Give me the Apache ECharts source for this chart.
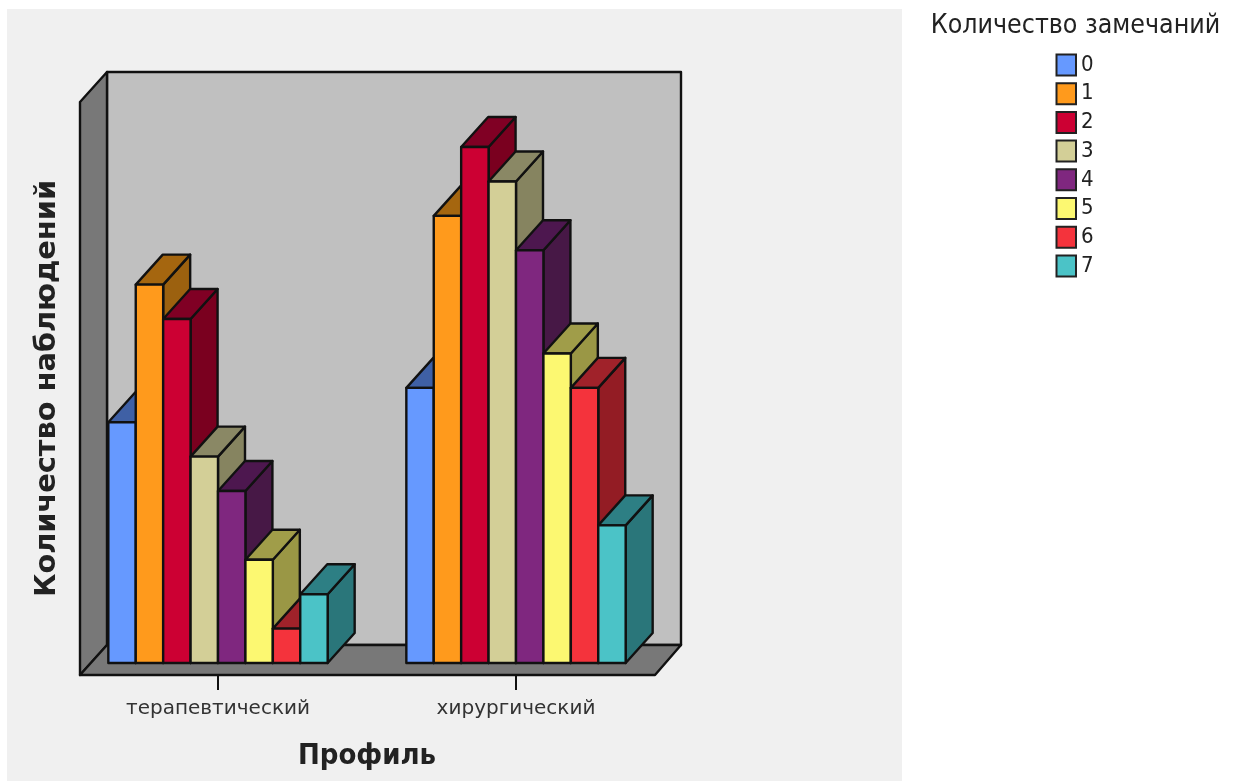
<!DOCTYPE html>
<html>
<head>
<meta charset="utf-8">
<style>html,body{margin:0;padding:0;background:#fff}#chart{width:1237px;height:781px}</style>
<script src="https://cdn.jsdelivr.net/npm/echarts@6/dist/echarts.min.js"></script>
</head>
<body>
<div id="chart"></div>
<script>
// Observation counts by department profile and number of remarks
const profiles = ['терапевтический', 'хирургический'];
const remarkLevels = ['0', '1', '2', '3', '4', '5', '6', '7'];
const countsTherapy = [7, 11, 10, 6, 5, 3, 1, 2];
const countsSurgery = [8, 13, 15, 14, 12, 9, 8, 4];
const faceColors = ['#6699ff', '#ff9a1c', '#cc0033', '#d3cf97', '#7f277f', '#fcf871', '#f4333c', '#4bc3c7'];
const topColors = ['#3f60a5', '#a5660f', '#800024', '#8a8865', '#4d174f', '#a09d49', '#a0222a', '#2d7f84'];
const sideColors = ['#3f60a5', '#9c610f', '#7a001f', '#868460', '#471846', '#9a9745', '#931c24', '#2a767a'];

const DEPTH_X = 27, DEPTH_Y = -30;
const FLOOR_DROP = 12, TICK_LENGTH = 15;
const OUTLINE = '#111';
const BAR_SHARE = 0.092;

function poly(points, fill) {
  return { type: 'polygon', shape: { points }, style: { fill, stroke: OUTLINE, lineWidth: 2.4, lineJoin: 'round' } };
}

// Back wall, side wall and floor of the box, derived from the grid rectangle
function renderBox(params, api) {
  const cs = params.coordSys;
  const l = cs.x + 11, r = cs.x + cs.width - 10, t = cs.y, b = cs.y + cs.height + FLOOR_DROP;
  const bt = t + DEPTH_Y, bb = b + DEPTH_Y, bl = l + DEPTH_X, br = r + DEPTH_X - 1;
  return { type: 'group', children: [
    poly([[bl, bt], [br, bt], [br, bb], [bl, bb]], '#c0c0c0'),
    poly([[l, t], [bl, bt], [bl, bb], [l, b]], '#787878'),
    poly([[l, b], [r, b], [br, bb], [bl, bb]], '#787878')
  ] };
}

// Category tick hanging below the front edge of the floor
function renderTick(params, api) {
  const p = api.coord([api.value(0), 0]);
  return {
    type: 'line',
    shape: { x1: p[0], y1: p[1] + FLOOR_DROP, x2: p[0], y2: p[1] + FLOOR_DROP + TICK_LENGTH },
    style: { stroke: OUTLINE, lineWidth: 2 }
  };
}

// A single extruded bar: front face, top and right side
function barRenderer(level) {
  return function (params, api) {
    const w = api.size([1, 0])[0] * BAR_SHARE;
    const top = api.coord([api.value(0), api.value(1)]);
    const base = api.coord([api.value(0), 0]);
    const x0 = top[0] + (level - remarkLevels.length / 2) * w, x1 = x0 + w;
    const y0 = top[1], y1 = base[1];
    return { type: 'group', children: [
      poly([[x1, y0], [x1 + DEPTH_X, y0 + DEPTH_Y], [x1 + DEPTH_X, y1 + DEPTH_Y], [x1, y1]], sideColors[level]),
      poly([[x0, y0], [x0 + DEPTH_X, y0 + DEPTH_Y], [x1 + DEPTH_X, y0 + DEPTH_Y], [x1, y0]], topColors[level]),
      poly([[x0, y0], [x1, y0], [x1, y1], [x0, y1]], faceColors[level])
    ] };
  };
}

const barSeries = remarkLevels.map((name, i) => ({
  name,
  type: 'custom',
  renderItem: barRenderer(i),
  itemStyle: { color: faceColors[i] },
  encode: { x: 0, y: 1 },
  z: 3,
  data: [[0, countsTherapy[i]], [1, countsSurgery[i]]]
}));

const chart = echarts.init(document.getElementById('chart'), null, { renderer: 'canvas' });
chart.setOption({
  animation: false,
  backgroundColor: '#ffffff',
  graphic: [{ type: 'rect', z: -10, silent: true, shape: { x: 7, y: 9, width: 895, height: 772 }, style: { fill: '#f0f0f0' } }],
  title: {
    text: 'Количество замечаний', left: 1070.5, top: 8, textAlign: 'center',
    textStyle: { fontFamily: 'DejaVu Sans Condensed', fontWeight: 'normal', fontSize: 26.5, color: '#222' }
  },
  legend: {
    orient: 'vertical', left: 1050.5, top: 48.5, itemWidth: 19.5, itemHeight: 21, itemGap: 5.7, icon: 'rect',
    data: remarkLevels,
    selectedMode: false,
    itemStyle: { borderColor: '#222', borderWidth: 2 },
    textStyle: { fontFamily: 'DejaVu Sans Condensed', fontSize: 22, lineHeight: 21, color: '#222' }
  },
  grid: { left: 69, width: 596, top: 102, height: 561 },
  xAxis: {
    type: 'category', data: profiles, offset: FLOOR_DROP,
    axisLine: { show: false },
    axisTick: { show: false },
    axisLabel: { fontFamily: 'DejaVu Sans', fontSize: 20, color: '#333', margin: 24 },
    name: 'Профиль', nameLocation: 'middle', nameGap: 67,
    nameTextStyle: { fontFamily: 'DejaVu Sans Condensed', fontWeight: 'bold', fontSize: 29, color: '#222' }
  },
  yAxis: {
    type: 'value', min: 0, max: 16.31,
    axisLine: { show: false }, axisTick: { show: false }, axisLabel: { show: false }, splitLine: { show: false },
    name: 'Количество наблюдений', nameLocation: 'middle', nameGap: 7,
    nameTextStyle: { fontFamily: 'DejaVu Sans', fontWeight: 'bold', fontSize: 28.8, color: '#222', padding: [0, 12, 0, 0] }
  },
  series: [{
    name: 'box', type: 'custom', z: 1, silent: true, renderItem: renderBox,
    encode: { x: 0, y: 1 }, data: [[0, 0]]
  }, {
    name: 'ticks', type: 'custom', z: 1, silent: true, clip: false, renderItem: renderTick,
    encode: { x: 0, y: 1 }, data: [[0, 0], [1, 0]]
  }].concat(barSeries)
});
</script>
</body>
</html>
